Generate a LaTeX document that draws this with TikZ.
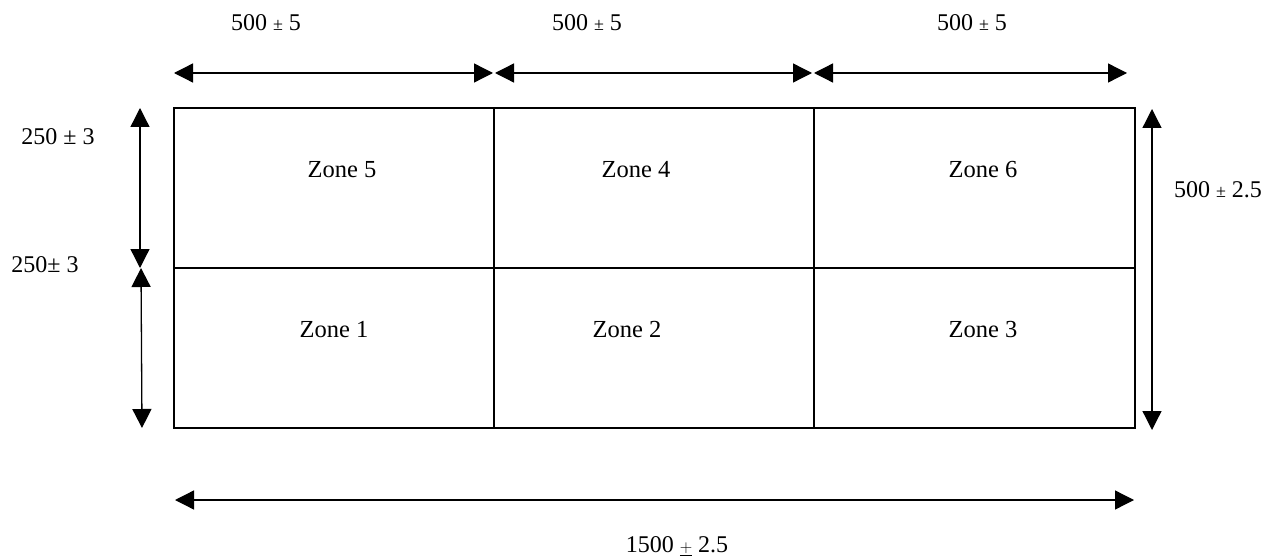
\documentclass[tikz,border=0pt]{standalone}
\usepackage{fontspec}
\setmainfont{Liberation Serif}
\usetikzlibrary{arrows.meta}
\newcommand{\smallpm}{{\fontsize{18}{18}\selectfont ±}}

\begin{document}
\begin{tikzpicture}[x=1pt,y=-1pt,
plate/.style={line width=1.4pt},
dimline/.style={line width=1.3pt,{Triangle[length=19pt,width=19pt]}-{Triangle[length=19pt,width=19pt]}},
zonelabel/.style={font=\fontsize{24.5}{28}\selectfont},
dimlabel/.style={font=\fontsize{24}{28}\selectfont}
]
\useasboundingbox (0,0) rectangle (1278,559);

% plate and zones
\draw[plate] (174,108) rectangle (1135,428);
\draw[plate] (494,108) -- (494,428);
\draw[plate] (814,108) -- (814,428);
\draw[plate] (174,268) -- (1135,268);

\node[zonelabel] (zone5) at (342,170) {Zone 5};
\node[zonelabel] (zone4) at (636,170) {Zone 4};
\node[zonelabel] (zone6) at (983,170) {Zone 6};
\node[zonelabel] (zone1) at (334,330) {Zone 1};
\node[zonelabel] (zone2) at (627,330) {Zone 2};
\node[zonelabel] (zone3) at (983,330) {Zone 3};

% top dimensions
\coordinate (t0) at (174,73);
\coordinate (t1) at (493,73);
\coordinate (t2) at (495,73);
\coordinate (t3) at (812,73);
\coordinate (t4) at (814,73);
\coordinate (t5) at (1127,73);
\draw[dimline] (t0) -- (t1);
\draw[dimline] (t2) -- (t3);
\draw[dimline] (t4) -- (t5);
\node[dimlabel] (w1) at (266,23) {500 \smallpm{} 5};
\node[dimlabel] (w2) at (587,23) {500 \smallpm{} 5};
\node[dimlabel] (w3) at (972,23) {500 \smallpm{} 5};

% left dimensions
\coordinate (l0) at (140,108);
\coordinate (l1) at (140,268);
\coordinate (l2) at (141,268);
\coordinate (l3) at (142,428);
\draw[dimline] (l0) -- (l1);
\draw[dimline] (l2) -- (l3);
\node[dimlabel] (h1) at (58,137) {250 ± 3};
\node[dimlabel] (h2) at (45,265) {250± 3};

% right dimension
\coordinate (r0) at (1152,109);
\coordinate (r1) at (1152,430);
\draw[dimline] (r0) -- (r1);
\node[dimlabel] (h3) at (1218,190) {500 \smallpm{} 2.5};

% bottom dimension
\coordinate (b0) at (175,500);
\coordinate (b1) at (1134,500);
\draw[dimline] (b0) -- (b1);
\node[dimlabel] (w4) at (677,546) {1500 {\fontsize{18}{18}\selectfont$\underline{+}$} 2.5};
\end{tikzpicture}
\end{document}
